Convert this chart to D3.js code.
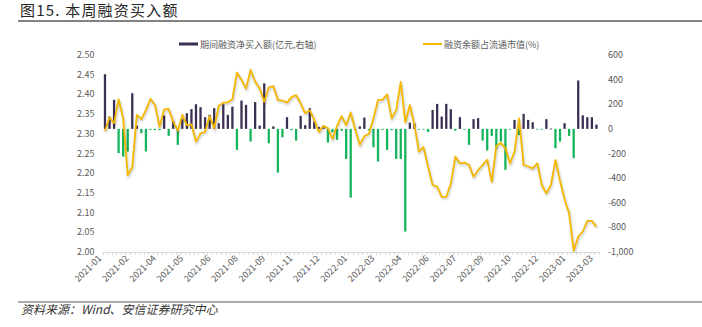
<!DOCTYPE html>
<html>
<head>
<meta charset="utf-8">
<script src="https://d3js.org/d3.v7.min.js"></script>
<style>
  body { margin: 0; background: #fff; }
  svg { display: block; font-family: "Noto Sans CJK SC", "Noto Sans", sans-serif; }
  .tick-label { font-size: 9px; fill: #595959; }
  .legend-label { font-size: 9px; fill: #595959; }
</style>
</head>
<body>
<svg width="702" height="327"></svg>
<script>

// x axis labels, one every 6 weeks
var tickLabels = ["2021-01", "2021-02", "2021-04", "2021-05", "2021-06", "2021-08",
  "2021-09", "2021-11", "2021-12", "2022-01", "2022-03", "2022-04", "2022-06",
  "2022-07", "2022-09", "2022-10", "2022-12", "2023-01", "2023-03"];

// 期间融资净买入额 (亿元, right axis), weekly
var netBuy = [444, 100, 236, -197, -225, -184, 290, 27, -35, -184,
  -8, -10, -10, 108, -57, 65, -130, 79, 127, 160,
  200, 176, 95, 114, 168, 46, 200, 114, 181, -171,
  230, 195, -103, 217, 27, 370, -117, 20, -355, -68,
  95, -10, -95, 106, 30, 168, 60, 15, 25, -111,
  -28, -89, -15, -244, -558, -10, 20, 92, -12, -149,
  -265, -8, -171, -10, -244, -244, -834, 51, 45, -3,
  -3, -25, 154, 203, 100, 203, 160, -15, 95, -5,
  -130, 79, 87, -95, -176, -57, -165, -103, -333, -3,
  73, -50, 122, 73, 54, -5, -5, 79, 2, -157,
  -103, 46, -57, -238, 393, 110, 95, 95, 35];

// 融资余额占流通市值 (%), left axis
var marginRatio = [2.307, 2.342, 2.327, 2.388, 2.339, 2.195, 2.215, 2.348, 2.337, 2.360,
  2.389, 2.373, 2.318, 2.362, 2.363, 2.331, 2.308, 2.348, 2.322, 2.324,
  2.280, 2.301, 2.305, 2.345, 2.314, 2.371, 2.379, 2.380, 2.388, 2.455,
  2.437, 2.415, 2.462, 2.432, 2.415, 2.381, 2.418, 2.421, 2.386, 2.384,
  2.379, 2.393, 2.398, 2.377, 2.352, 2.360, 2.335, 2.305, 2.320, 2.314,
  2.287, 2.320, 2.345, 2.322, 2.354, 2.310, 2.272, 2.294, 2.300, 2.339,
  2.386, 2.386, 2.400, 2.339, 2.360, 2.432, 2.329, 2.373, 2.322, 2.255,
  2.266, 2.217, 2.170, 2.166, 2.140, 2.140, 2.174, 2.242, 2.225, 2.227,
  2.221, 2.191, 2.208, 2.221, 2.234, 2.178, 2.269, 2.277, 2.263, 2.225,
  2.255, 2.339, 2.221, 2.217, 2.212, 2.225, 2.170, 2.149, 2.170, 2.234,
  2.181, 2.134, 2.098, 2.003, 2.039, 2.052, 2.079, 2.079, 2.064];

var leftTicks = [2.00, 2.05, 2.10, 2.15, 2.20, 2.25, 2.30, 2.35, 2.40, 2.45, 2.50];
var rightTicks = [-1000, -800, -600, -400, -200, 0, 200, 400, 600];

var svg = d3.select("svg");

var plotLeft = 102.7, plotRight = 598.7, plotTop = 55, plotBottom = 252;

var idx = d3.range(netBuy.length);

var xScale = d3.scaleBand().domain(idx).range([plotLeft, plotRight]).paddingInner(0.5).paddingOuter(0.25);
var yLeft = d3.scaleLinear().domain([2.0, 2.5]).range([plotBottom, plotTop]);
var yRight = d3.scaleLinear().domain([-1000, 600]).range([plotBottom, plotTop]);

var fmtRight = d3.formatLocale({decimal: ".", thousands: ",", grouping: [3], currency: ["", ""], minus: "-"}).format(",");

// title
svg.append("text")
  .attr("x", 20).attr("y", 16)
  .style("font-size", "15px").style("fill", "#262626").style("letter-spacing", "1.2px")
  .text("图15. 本周融资买入额");
svg.append("line")
  .attr("x1", 18).attr("x2", 702).attr("y1", 21).attr("y2", 21)
  .style("stroke", "#595959").style("stroke-width", 1.5);

// legend
svg.append("rect").attr("x", 179).attr("y", 42.5).attr("width", 19).attr("height", 3).style("fill", "#3b2f52");
svg.append("text").attr("class", "legend-label").attr("x", 200).attr("y", 47.5).text("期间融资净买入额(亿元,右轴)");
svg.append("line").attr("x1", 423).attr("x2", 442).attr("y1", 44).attr("y2", 44).style("stroke", "#f5b800").style("stroke-width", 2);
svg.append("text").attr("class", "legend-label").attr("x", 444).attr("y", 47.5).text("融资余额占流通市值(%)");

// left axis labels
svg.selectAll(".ly").data(leftTicks).enter().append("text")
  .attr("class", "tick-label")
  .attr("x", 94.5)
  .attr("y", function(d) { return yLeft(d) + 3; })
  .attr("text-anchor", "end")
  .text(function(d) { return d.toFixed(2); });

// right axis labels
svg.selectAll(".ry").data(rightTicks).enter().append("text")
  .attr("class", "tick-label")
  .attr("x", 608)
  .attr("y", function(d) { return yRight(d) + 3; })
  .text(function(d) { return fmtRight(d); });

// x axis line + minor ticks
svg.append("line")
  .attr("x1", plotLeft).attr("x2", plotRight).attr("y1", plotBottom + 0.5).attr("y2", plotBottom + 0.5)
  .style("stroke", "#d9d9d9");
var step = xScale.step();
svg.selectAll(".xt").data(d3.range(netBuy.length + 1)).enter().append("line")
  .attr("x1", function(d) { return Math.round(plotLeft + xScale.paddingOuter() * step + (d - 0.25) * step) + 0.5; })
  .attr("x2", function(d) { return Math.round(plotLeft + xScale.paddingOuter() * step + (d - 0.25) * step) + 0.5; })
  .attr("y1", plotBottom).attr("y2", plotBottom + 3)
  .style("stroke", "#d9d9d9");

// x labels
svg.selectAll(".xl").data(tickLabels).enter().append("text")
  .attr("class", "tick-label")
  .attr("text-anchor", "end")
  .attr("transform", function(d, i) {
    var cx = xScale(i * 6) + xScale.bandwidth() / 2;
    return "translate(" + (cx - 3) + "," + (plotBottom + 7) + ") rotate(-45)";
  })
  .text(function(d) { return d; });

// bars
svg.selectAll(".bar").data(netBuy).enter().append("rect")
  .attr("class", "bar")
  .attr("x", function(d, i) { return xScale(i); })
  .attr("width", xScale.bandwidth())
  .attr("y", function(d) { return d >= 0 ? yRight(d) : yRight(0); })
  .attr("height", function(d) { return Math.max(0.8, Math.abs(yRight(d) - yRight(0))); })
  .style("fill", function(d) { return d >= 0 ? "#3b2f52" : "#14b45c"; });

// line with soft shadow
var defs = svg.append("defs");
defs.append("filter").attr("id", "blur").append("feGaussianBlur").attr("stdDeviation", 1.2);

var line = d3.line()
  .x(function(d, i) { return xScale(i) + xScale.bandwidth() / 2; })
  .y(function(d) { return yLeft(d); });

svg.append("path")
  .datum(marginRatio)
  .attr("d", line)
  .attr("transform", "translate(0.8,1.5)")
  .attr("filter", "url(#blur)")
  .style("fill", "none").style("stroke", "rgba(0,0,0,0.22)").style("stroke-width", 2);

svg.append("path")
  .datum(marginRatio)
  .attr("d", line)
  .style("fill", "none").style("stroke", "#f5b800").style("stroke-width", 1.8)
  .style("stroke-linejoin", "round");

// footer
svg.append("line")
  .attr("x1", 18).attr("x2", 702).attr("y1", 302).attr("y2", 302)
  .style("stroke", "#595959").style("stroke-width", 1.2);
svg.append("text")
  .attr("x", 21).attr("y", 314)
  .style("font-size", "12px").style("font-style", "italic").style("fill", "#333")
  .text("资料来源：Wind、安信证券研究中心");

</script>
</body>
</html>
